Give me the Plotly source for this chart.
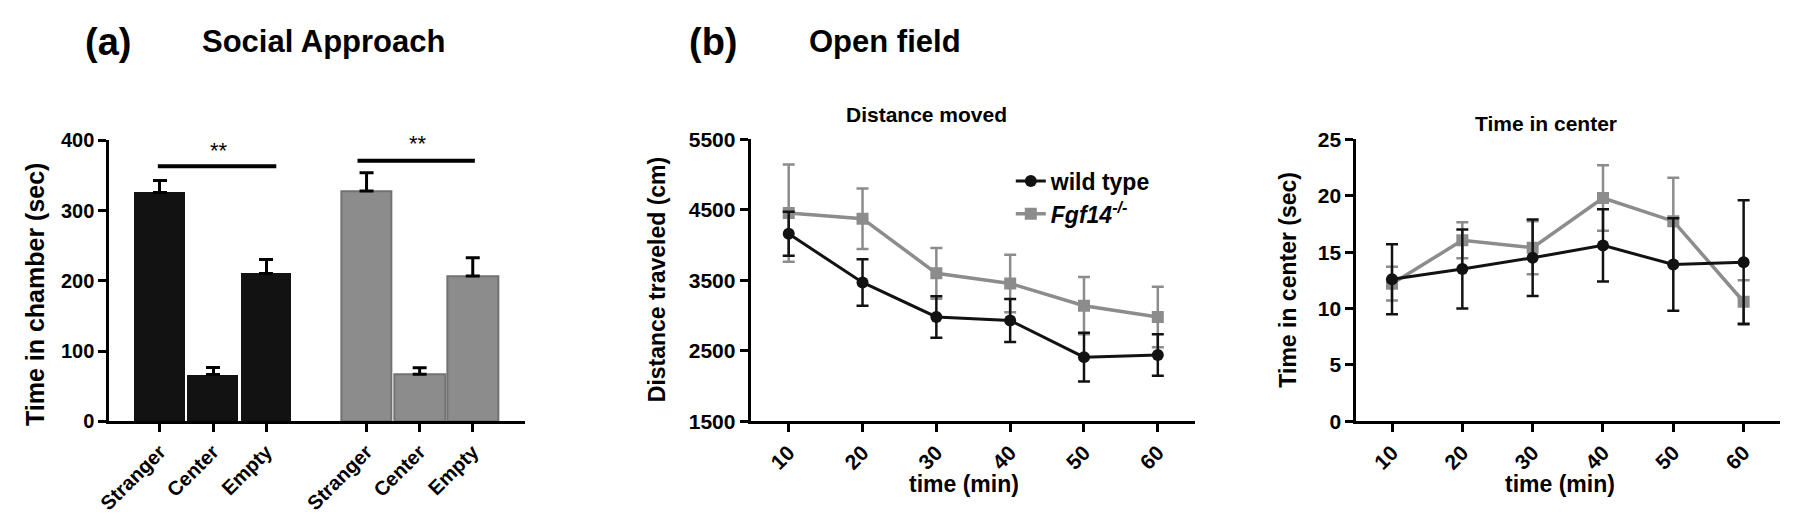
import plotly.graph_objects as go

# ---------------- data ----------------
# Panel (a) Social approach
chambers = ["Stranger", "Center", "Empty"]
wt_chamber = [326, 66, 210]
wt_chamber_err = [17, 11, 21]
ko_chamber = [328, 67, 207]
ko_chamber_err = [26, 9, 26]
wt_pos = [0, 1, 2]
ko_pos = [3.89, 4.89, 5.89]
sig_y = [363, 371]
sig_x0 = [-0.04, 3.72]
sig_x1 = [2.19, 5.93]
sig_text_x = [1.12, 4.86]
sig_text_y = [386, 395]

# Panel (b) open field
time_min = [10, 20, 30, 40, 50, 60]
wt_dist = [4160, 3470, 2980, 2930, 2410, 2440]
wt_dist_err = [312, 330, 295, 306, 345, 295]
ko_dist = [4455, 4375, 3600, 3455, 3140, 2980]
ko_dist_err = [690, 430, 360, 408, 407, 430]
wt_center = [12.6, 13.5, 14.5, 15.6, 13.9, 14.1]
wt_center_err = [3.1, 3.5, 3.4, 3.2, 4.1, 5.5]
ko_center = [12.2, 16.05, 15.4, 19.8, 17.75, 10.6]
ko_center_err = [1.5, 1.6, 2.35, 2.9, 3.85, 1.9]

BLACK = "#121212"
GRAY = "#8c8c8c"
FONT = "Liberation Sans, Arial, sans-serif"
W, H = 1800, 515


def px(x):
    return x / W


def py(y):
    return 1 - y / H


fig = go.Figure()

# ---- panel (a) bars ----
fig.add_trace(go.Bar(
    x=wt_pos, y=wt_chamber, width=0.95, xaxis="x", yaxis="y",
    marker=dict(color=BLACK, line=dict(width=0)),
    error_y=dict(type="data", array=wt_chamber_err, arrayminus=[0] * 3,
                 symmetric=False, color="black", thickness=3, width=7),
    showlegend=False))
fig.add_trace(go.Bar(
    x=ko_pos, y=ko_chamber, width=0.95, xaxis="x", yaxis="y",
    marker=dict(color=GRAY, line=dict(width=2, color="#727272")),
    error_y=dict(type="data", array=ko_chamber_err, arrayminus=[0] * 3,
                 symmetric=False, color="black", thickness=3, width=7),
    showlegend=False))
for i in range(2):
    fig.add_trace(go.Scatter(
        x=[sig_x0[i], sig_x1[i]], y=[sig_y[i], sig_y[i]], mode="lines",
        line=dict(color="black", width=4), xaxis="x", yaxis="y",
        showlegend=False, hoverinfo="skip"))

# ---- panel (b) distance ----
fig.add_trace(go.Scatter(
    x=time_min, y=ko_dist, mode="lines+markers", name="<i>Fgf14<sup>-/-</sup></i>",
    line=dict(color=GRAY, width=3.5),
    marker=dict(symbol="square", size=12, color=GRAY),
    error_y=dict(type="data", array=ko_dist_err, color=GRAY, thickness=2.5, width=6),
    xaxis="x2", yaxis="y2", legendrank=2))
fig.add_trace(go.Scatter(
    x=time_min, y=wt_dist, mode="lines+markers", name="wild type",
    line=dict(color=BLACK, width=3),
    marker=dict(symbol="circle", size=12, color=BLACK),
    error_y=dict(type="data", array=wt_dist_err, color=BLACK, thickness=2.5, width=6),
    xaxis="x2", yaxis="y2", legendrank=1))

# ---- panel (b) time in center ----
fig.add_trace(go.Scatter(
    x=time_min, y=ko_center, mode="lines+markers",
    line=dict(color=GRAY, width=3.5),
    marker=dict(symbol="square", size=12, color=GRAY),
    error_y=dict(type="data", array=ko_center_err, color=GRAY, thickness=2.5, width=6),
    xaxis="x3", yaxis="y3", showlegend=False))
fig.add_trace(go.Scatter(
    x=time_min, y=wt_center, mode="lines+markers",
    line=dict(color=BLACK, width=3),
    marker=dict(symbol="circle", size=12, color=BLACK),
    error_y=dict(type="data", array=wt_center_err, color=BLACK, thickness=2.5, width=6),
    xaxis="x3", yaxis="y3", showlegend=False))

axis_common = dict(showline=True, linewidth=3, linecolor="black", ticks="outside",
                   ticklen=8, tickwidth=3, tickcolor="black", showgrid=False,
                   zeroline=False, fixedrange=True)
tickfont = dict(family=FONT, size=21, color="black", weight="bold")

ydom = [py(420), py(125)]
fig.update_layout(
    width=W, height=H, margin=dict(l=0, r=0, t=0, b=0),
    paper_bgcolor="white", plot_bgcolor="white",
    font=dict(family=FONT, color="black"),
    xaxis=dict(domain=[px(89), px(508)], range=[-0.953, 6.88],
               tickvals=wt_pos + ko_pos, ticktext=chambers + chambers,
               tickangle=-45, tickfont=dict(family=FONT, size=20, color="black", weight="bold"),
               **axis_common),
    yaxis=dict(domain=[py(420), py(126)], range=[0, 400], tickvals=[0, 100, 200, 300, 400],
               tickfont=dict(family=FONT, size=20, color="black", weight="bold"), **axis_common),
    xaxis2=dict(domain=[px(735), px(1183)], range=[4.85, 65.1], tickvals=time_min,
                tickangle=-45, tickfont=tickfont, anchor="y2", **axis_common),
    yaxis2=dict(domain=ydom, range=[1500, 5500], tickvals=[1500, 2500, 3500, 4500, 5500],
                tickfont=tickfont, anchor="x2", **axis_common),
    xaxis3=dict(domain=[px(1345), px(1772)], range=[4.92, 65.2], tickvals=time_min,
                tickangle=-45, tickfont=tickfont, anchor="y3", **axis_common),
    yaxis3=dict(domain=ydom, range=[0, 25], tickvals=[0, 5, 10, 15, 20, 25],
                tickfont=tickfont, anchor="x3", **axis_common),
    legend=dict(x=px(997), y=py(146), xanchor="left", yanchor="top",
                font=dict(family=FONT, size=23, color="black", weight="bold"),
                bgcolor="rgba(0,0,0,0)", tracegroupgap=4),
    bargap=0,
)

def ann(text, x, y, size, xanchor="center", angle=0):
    fig.add_annotation(text=text, x=px(x), y=py(y), xref="paper", yref="paper",
                       xanchor=xanchor, yanchor="middle", showarrow=False,
                       textangle=angle,
                       font=dict(family=FONT, size=size, color="black", weight="bold"))

ann("(a)", 62, 23, 38, xanchor="left")
ann("Social Approach", 180, 23, 31, xanchor="left")
ann("(b)", 671, 23, 38, xanchor="left")
ann("Open field", 792, 23, 31, xanchor="left")
ann("Distance moved", 912, 99, 21)
ann("Time in center", 1536, 108, 21)
ann("time (min)", 950, 486, 23)
ann("time (min)", 1550, 486, 23)
ann("Time in chamber (sec)", 14, 287, 25, angle=-90)
ann("Distance traveled (cm)", 640, 272, 23, angle=-90)
ann("Time in center (sec)", 1276, 272, 23, angle=-90)

for i in range(2):
    fig.add_annotation(text="**", x=sig_text_x[i], y=sig_text_y[i], xref="x", yref="y",
                       showarrow=False, yanchor="middle",
                       font=dict(family=FONT, size=22, color="black"))

fig.write_html("out.html")
